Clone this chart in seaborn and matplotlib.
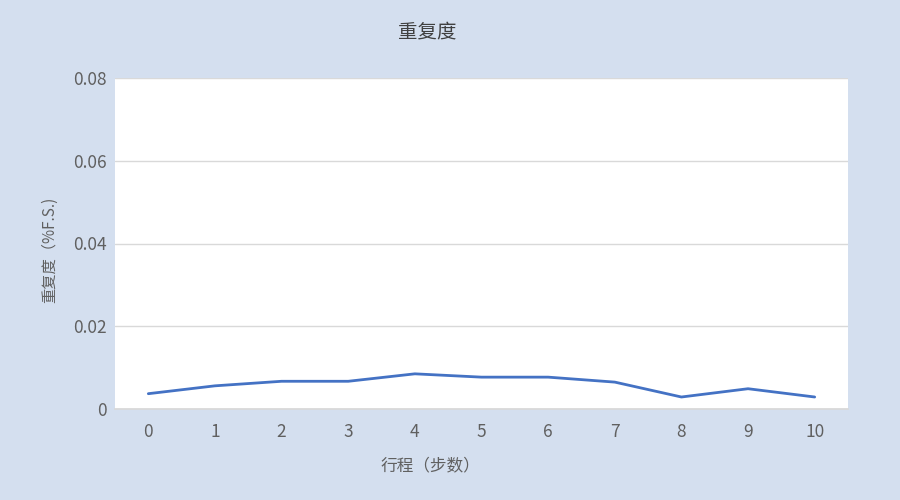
import numpy as np
import pandas as pd
import seaborn as sns
import matplotlib.pyplot as plt

# 数据
steps = [0, 1, 2, 3, 4, 5, 6, 7, 8, 9, 10]
repeatability = [0.0037, 0.0056, 0.0067, 0.0067, 0.0085, 0.0077, 0.0077, 0.0065, 0.0029, 0.0049, 0.0029]
y_ticks = [0, 0.02, 0.04, 0.06, 0.08]
y_tick_labels = ['0', '0.02', '0.04', '0.06', '0.08']

df = pd.DataFrame({'step': steps, 'value': repeatability})

sns.set_theme(style='white')
plt.rcParams['font.family'] = ['Noto Sans CJK SC', 'DejaVu Sans']

bg = '#d4dfef'
txt = '#606060'

fig = plt.figure(figsize=(9, 5), dpi=100, facecolor=bg)
ax = fig.add_axes([115 / 900, 1 - 409 / 500, 733 / 900, 331 / 500])
ax.set_facecolor('white')

sns.lineplot(data=df, x='step', y='value', ax=ax, color='#4472c4', linewidth=2)

ax.set_xlim(-0.5, 10.5)
ax.set_ylim(0, 0.08)
ax.set_xticks(steps)
ax.set_xticklabels([str(s) for s in steps], color=txt, fontsize=12.5)
ax.set_yticks(y_ticks)
ax.set_yticklabels(y_tick_labels, color=txt, fontsize=12.5)
ax.tick_params(axis='x', length=0, pad=10)
ax.tick_params(axis='y', length=0, pad=6)
ax.grid(axis='y', color='#d9d9d9', linewidth=1)
ax.set_axisbelow(True)
for s in ['top', 'right', 'left']:
    ax.spines[s].set_visible(False)
ax.spines['bottom'].set_color('#d9d9d9')

ax.set_xlabel('')
ax.set_ylabel('')
fig.text(430 / 900, 1 - 466 / 500, '行程（步数）', ha='center', va='center', color=txt, fontsize=12)
fig.text(50 / 900, 1 - 250 / 500, '重复度（%F.S.)', ha='center', va='center', color=txt,
         fontsize=11, rotation=90)
fig.text(427 / 900, 1 - 32 / 500, '重复度', ha='center', va='center', color='#404040', fontsize=14)

fig.savefig('out.png', dpi=100, facecolor=bg)
